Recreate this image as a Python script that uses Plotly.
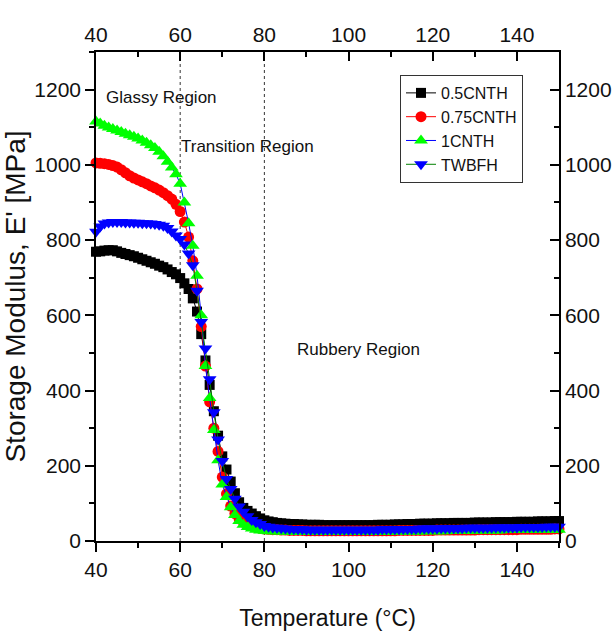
import plotly.graph_objects as go

# Temperature sweep (°C), one reading per degree
temperature = list(range(40, 151))

# Storage modulus E' (MPa) for each formulation
e_05cnth = [
    769, 770, 772, 773, 773, 770, 766, 763, 760, 757,
    753, 749, 745, 741, 737, 732, 728, 722, 715, 709,
    699, 685, 670, 645, 610, 550, 480, 415, 345, 280,
    225, 190, 158, 127, 103, 88, 80, 73, 66, 60,
    55, 52, 50, 48, 47, 46, 45, 45, 44, 44,
    43, 43, 43, 43, 42, 42, 42, 42, 42, 42,
    42, 42, 42, 42, 42, 42, 42, 43, 43, 43,
    43, 44, 44, 44, 45, 45, 45, 46, 46, 46,
    46, 47, 47, 47, 47, 48, 48, 48, 48, 48,
    49, 49, 49, 49, 49, 50, 50, 50, 50, 50,
    51, 51, 51, 51, 51, 52, 52, 52, 52, 53,
    53,
]
e_075cnth = [
    1005, 1004, 1003, 1001, 998, 994, 987, 979, 971, 965,
    960, 955, 950, 944, 939, 933, 926, 918, 909, 895,
    876, 848, 808, 745, 670, 570, 465, 370, 300, 238,
    170, 125, 93, 73, 59, 50, 44, 40, 36, 34,
    32, 31, 30, 30, 29, 29, 28, 28, 28, 28,
    27, 27, 27, 27, 27, 27, 27, 27, 27, 27,
    27, 27, 27, 27, 27, 27, 27, 27, 27, 27,
    27, 27, 28, 28, 28, 28, 28, 28, 28, 28,
    28, 29, 29, 29, 29, 29, 29, 29, 29, 29,
    29, 30, 30, 30, 30, 30, 30, 30, 30, 30,
    30, 31, 31, 31, 31, 31, 31, 31, 31, 32,
    32,
]
e_1cnth = [
    1115, 1110, 1104, 1099, 1095, 1091, 1087, 1083, 1079, 1075,
    1070, 1065, 1059, 1052, 1045, 1035, 1023, 1008, 993, 975,
    950, 900, 845, 785, 705, 600, 465, 380, 295, 215,
    150, 117, 90, 69, 53, 43, 37, 33, 30, 28,
    27, 26, 26, 25, 25, 25, 25, 24, 24, 24,
    24, 24, 24, 24, 24, 24, 24, 24, 24, 24,
    24, 24, 24, 24, 24, 24, 24, 24, 24, 24,
    24, 25, 25, 25, 25, 25, 25, 25, 26, 26,
    26, 26, 26, 26, 27, 27, 27, 27, 27, 27,
    28, 28, 28, 28, 28, 28, 28, 29, 29, 29,
    29, 29, 29, 29, 30, 30, 30, 30, 30, 30,
    30,
]
e_twbfh = [
    822, 836, 844, 847, 848, 848, 848, 847, 847, 846,
    846, 845, 845, 844, 843, 841, 838, 832, 823, 812,
    803, 788, 764, 733, 665, 582, 512, 430, 342, 270,
    213, 165, 138, 112, 92, 78, 66, 56, 50, 45,
    40, 38, 36, 35, 34, 33, 32, 32, 31, 31,
    30, 30, 30, 30, 30, 30, 30, 30, 30, 30,
    30, 30, 30, 30, 30, 30, 30, 30, 31, 31,
    31, 31, 31, 32, 32, 32, 32, 33, 33, 33,
    33, 33, 34, 34, 34, 34, 34, 34, 35, 35,
    35, 35, 35, 35, 35, 36, 36, 36, 36, 36,
    36, 37, 37, 37, 37, 37, 37, 38, 38, 38,
    38,
]

series_names = ["0.5CNTH", "0.75CNTH", "1CNTH", "TWBFH"]
series_values = [e_05cnth, e_075cnth, e_1cnth, e_twbfh]
marker_colors = ["#000000", "#ff0000", "#00ff00", "#0000ff"]
line_colors = ["#000000", "#ff0000", "#0000ff", "#008000"]
marker_symbols = ["square", "circle", "triangle-up", "triangle-down"]
marker_sizes = [10, 11, 12, 12]
# the last series sits on the mirrored top/right axes so those axes get drawn
series_axes = [("x", "y"), ("x", "y"), ("x", "y"), ("x2", "y2")]

x_ticks = [40, 60, 80, 100, 120, 140]
y_ticks = [0, 200, 400, 600, 800, 1000, 1200]
region_boundaries = [60, 80]
region_labels = ["Glassy Region", "Transition Region", "Rubbery Region"]
region_label_pos = [(41.8, 1178), (59.8, 1050), (87.3, 508)]

font_family = "Liberation Sans, Arial, sans-serif"
text_color = "#111111"

fig = go.Figure()
for name, vals, mc, lc, sym, sz, (xa, ya) in zip(
        series_names, series_values, marker_colors, line_colors,
        marker_symbols, marker_sizes, series_axes):
    fig.add_trace(go.Scatter(
        x=temperature, y=vals, name=name, mode="lines+markers",
        xaxis=xa, yaxis=ya,
        line=dict(color=lc, width=1),
        marker=dict(symbol=sym, size=sz, color=mc, line=dict(width=0)),
        cliponaxis=False,
    ))

for xb in region_boundaries:
    fig.add_shape(type="line", xref="x", yref="paper", x0=xb, x1=xb, y0=0, y1=1,
                  line=dict(color="#333333", width=1, dash="3px,3px"), layer="below")

for text, (ax, ay) in zip(region_labels, region_label_pos):
    fig.add_annotation(x=ax, y=ay, xref="x", yref="y", text=text, showarrow=False,
                       xanchor="left", yanchor="middle",
                       font=dict(family=font_family, size=17, color=text_color))

axis_common = dict(showgrid=False, zeroline=False, showline=True, linecolor="black",
                   linewidth=1.5, tickcolor="black", tickwidth=1.5, automargin=False,
                   tickfont=dict(family=font_family, size=21, color=text_color))

fig.update_layout(
    width=616, height=632,
    margin=dict(l=96, r=57, t=52, b=91),
    paper_bgcolor="white", plot_bgcolor="white",
    showlegend=True,
    legend=dict(x=0.6566, y=0.953, xanchor="left", yanchor="top",
                bordercolor="#333333", borderwidth=1, bgcolor="white",
                font=dict(family=font_family, size=16, color=text_color),
                tracegroupgap=0, itemwidth=30),
    xaxis=dict(range=[40, 150], tickvals=x_ticks, ticks="outside", ticklen=9,
               minor=dict(ticks="outside", ticklen=5, dtick=10, tick0=40,
                          tickcolor="black", tickwidth=1.5),
               title=dict(text="Temperature (°C)", standoff=30,
                          font=dict(family=font_family, size=23, color=text_color)),
               **axis_common),
    yaxis=dict(range=[0, 1300], tickvals=y_ticks, ticks="outside", ticklen=9,
               minor=dict(ticks="outside", ticklen=5, dtick=100, tick0=0,
                          tickcolor="black", tickwidth=1.5),
               title=dict(text="Storage Modulus, E' [MPa]", standoff=14,
                          font=dict(family=font_family, size=28, color=text_color)),
               **axis_common),
    xaxis2=dict(range=[40, 150], tickvals=x_ticks, ticks="inside", ticklen=9,
                overlaying="x", side="top", anchor="y2",
                minor=dict(ticks="inside", ticklen=5, dtick=10, tick0=40,
                           tickcolor="black", tickwidth=1.5),
                **axis_common),
    yaxis2=dict(range=[0, 1300], tickvals=y_ticks, ticks="inside", ticklen=9,
                overlaying="y", side="right", anchor="x2",
                minor=dict(ticks="inside", ticklen=5, dtick=100, tick0=0,
                           tickcolor="black", tickwidth=1.5),
                **axis_common),
)

fig.write_html("out.html")
